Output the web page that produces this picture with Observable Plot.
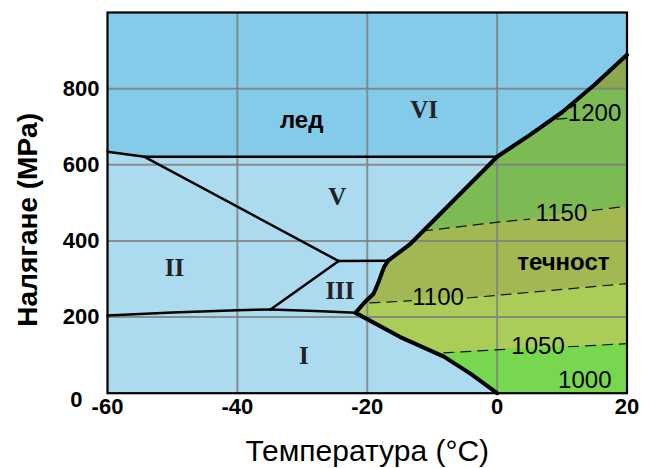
<!DOCTYPE html>
<html><head><meta charset="utf-8">
<script src="https://cdn.jsdelivr.net/npm/d3@7"></script>
<script src="https://cdn.jsdelivr.net/npm/@observablehq/plot@0.6"></script>
<style>body{margin:0;background:#fff} #chart svg{display:block}</style>
</head><body><div id="chart"></div>
<script>
// ---- ticks ----
const xTicks = [-60, -40, -20, 0, 20];
const yTicks = [200, 400, 600, 800];
const yZeroTick = [0];
const gridT = [-40, -20, 0];
const gridP = [200, 400, 600, 800];

// ---- phase boundaries (T °C, P MPa) ----
const meltI = [[0,0],[-4,50],[-8.2,96],[-15,148],[-21.8,211]];
const meltIII = [[-21.8,211],[-20.5,237],[-19,262],[-18.2,295],[-17.4,332],[-16.8,348]];
const meltV = [[-16.8,348],[-13.5,390],[0,621]];
const meltVI = [[0,621],[5,678],[10,738],[15,810],[20,889]];
const lineVIV = [[-60,634],[-54.3,621],[0,621]];
const lineIIV = [[-54.3,621],[-24.4,347]];
const lineIIIV = [[-24.4,347],[-16.8,348]];
const lineIIIII = [[-24.4,347],[-34.9,220]];
const lineIII = [[-60,204],[-50,212],[-40,218],[-34.9,220]];
const lineIIII = [[-34.9,220],[-28,216],[-21.8,211]];

// ---- isochores (kg/m3), split around their labels ----
const iso1050 = [[[-8.2,106],[2,116]],[[11,122],[20,130]]];
const iso1100 = [[[-19.6,237],[-13.2,243]],[[-4.6,250],[20,288]]];
const iso1150 = [[[-11.5,426],[0.5,450],[5,457]],[[14.7,480],[20,491]]];
const iso1200 = [[[9.2,720],[11.6,723]]];

// ---- colour band upper edges in the liquid ----
const edge800 = [[-25,798],[20,800]];
const edge1150 = [[-25,426],[-11.5,426],[0.5,450],[5,457],[14.7,480],[20,491]];
const edge1100 = [[-25,237],[-19.6,237],[-13.2,243],[-4.6,250],[20,288]];
const edge1050 = [[-25,106],[-8.2,106],[2,116],[11,122],[20,130]];

// ---- ice regions ----
const lowerIce = [[-60,0],...meltI, ...meltIII.slice(1), ...meltV.slice(1), [-54.3,621],[-60,634]];
const upperIce = [[-60,634],[-54.3,621], ...meltVI, [20,1000],[-60,1000]];

// ---- labels ----
const romanNames = ["VI", "V", "III", "II", "I"];
const romanT = [-11.25, -24.6, -24.2, -49.7, -29.75];
const romanP = [744, 516, 268, 329, 97];
const wordNames = ["лед", "течност"];
const wordT = [-30.1, 10.2];
const wordP = [718, 343];
const densNames = ["1200", "1150", "1100", "1050", "1000"];
const densT = [15.0, 9.9, -9.1, 6.3, 13.5];
const densP = [735, 472, 251, 123, 33];

const fmt = d => (d < 0 ? "-" + Math.abs(d) : String(d));
const pts = a => a.map(([T, P]) => ({T, P}));
const segs = arr => arr.flatMap((s, i) => s.map(([T, P]) => ({T, P, s: i})));
const zip3 = (n, t, p) => n.map((name, i) => ({name, T: t[i], P: p[i]}));

const C = {
  upperIce: "#83cbe8", lowerIce: "#acdbf0",
  top: "#8ca84d", green: "#7cbb54", olive: "#a2b853", yellow: "#aacd57", bright: "#77d850"
};

const chart = Plot.plot({
  width: 648, height: 468,
  marginLeft: 107, marginRight: 21.5, marginTop: 12, marginBottom: 75.3,
  x: {domain: [-60, 20]},
  y: {domain: [0, 1000]},
  style: {fontFamily: "'Liberation Sans', Arial, sans-serif", background: "white"},
  marks: [
    Plot.frame({fill: C.top, stroke: null}),
    Plot.areaY(pts(edge800), {x: "T", y: "P", fill: C.green}),
    Plot.areaY(pts(edge1150), {x: "T", y: "P", fill: C.olive}),
    Plot.areaY(pts(edge1100), {x: "T", y: "P", fill: C.yellow}),
    Plot.areaY(pts(edge1050), {x: "T", y: "P", fill: C.bright}),
    Plot.line(pts(lowerIce), {x: "T", y: "P", fill: C.lowerIce, stroke: null}),
    Plot.line(pts(upperIce), {x: "T", y: "P", fill: C.upperIce, stroke: null}),
    Plot.gridX(gridT, {stroke: "#808080", strokeOpacity: 0.85, strokeWidth: 2}),
    Plot.gridY(gridP, {stroke: "#808080", strokeOpacity: 0.85, strokeWidth: 2}),
    ...[iso1050, iso1100, iso1150, iso1200].map(s =>
      Plot.line(segs(s), {x: "T", y: "P", z: "s", stroke: "#111", strokeWidth: 1.2, strokeDasharray: "10,7"})),
    ...[lineVIV, lineIIV, lineIIIV, lineIIIII, lineIII, lineIIII].map(l =>
      Plot.line(pts(l), {x: "T", y: "P", stroke: "black", strokeWidth: 2.5})),
    ...[meltI, meltIII, meltV, meltVI].map(l =>
      Plot.line(pts(l), {x: "T", y: "P", stroke: "black", strokeWidth: 4, strokeLinejoin: "round"})),
    Plot.text(zip3(romanNames, romanT, romanP), {x: "T", y: "P", text: "name", fontFamily: "'Liberation Serif', 'Times New Roman', serif", fontWeight: "bold", fontSize: 25, fill: "#222"}),
    Plot.text(zip3(wordNames, wordT, wordP), {x: "T", y: "P", text: "name", fontWeight: "bold", fontSize: 24, fill: "black"}),
    Plot.text(zip3(densNames, densT, densP), {x: "T", y: "P", text: "name", fontSize: 24, fill: "black"}),
    Plot.frame({stroke: "black", strokeWidth: 2.2}),
    Plot.axisX(xTicks, {tickSize: 0, tickPadding: 5, fontSize: 22, fontWeight: "bold", tickFormat: fmt, label: null}),
    Plot.axisY(yTicks, {tickSize: 0, tickPadding: 8, fontSize: 22, fontWeight: "bold", tickFormat: fmt, label: null}),
    Plot.axisY(yZeroTick, {tickSize: 0, tickPadding: 25, dy: 7, fontSize: 22, fontWeight: "bold", tickFormat: fmt, label: null}),
    Plot.text(["Температура (°C)"], {frameAnchor: "bottom", dy: 68, fontSize: 30, text: d => d, fill: "black"}),
    Plot.text(["Налягане (MPa)"], {frameAnchor: "left", dx: -79, dy: 17, rotate: -90, textAnchor: "middle", fontSize: 28, fontWeight: "bold", text: d => d, fill: "black"})
  ]
});
document.getElementById("chart").appendChild(chart);
</script>
</body></html>
